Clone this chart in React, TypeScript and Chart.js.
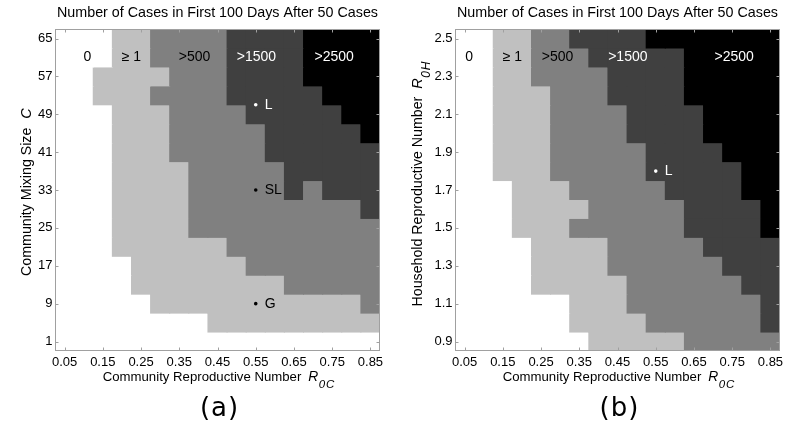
import React, { useEffect, useRef } from 'react';
import { Chart, registerables } from 'chart.js';

Chart.register(...registerables);

// ---------- data ----------
const rcValues = [0.05, 0.1, 0.15, 0.2, 0.25, 0.3, 0.35, 0.4, 0.45, 0.5, 0.55, 0.6, 0.65, 0.7, 0.75, 0.8, 0.85];
const rcTicks = [0.05, 0.15, 0.25, 0.35, 0.45, 0.55, 0.65, 0.75, 0.85];
const rcTickLabels = ['0.05', '0.15', '0.25', '0.35', '0.45', '0.55', '0.65', '0.75', '0.85'];

const mixingSizes = [65, 61, 57, 53, 49, 45, 41, 37, 33, 29, 25, 21, 17, 13, 9, 5, 1];
const mixingTicks = [1, 9, 17, 25, 33, 41, 49, 57, 65];
const mixingTickLabels = ['1', '9', '17', '25', '33', '41', '49', '57', '65'];

const householdR0 = [2.5, 2.4, 2.3, 2.2, 2.1, 2.0, 1.9, 1.8, 1.7, 1.6, 1.5, 1.4, 1.3, 1.2, 1.1, 1.0, 0.9];
const householdTicks = [0.9, 1.1, 1.3, 1.5, 1.7, 1.9, 2.1, 2.3, 2.5];
const householdTickLabels = ['0.9', '1.1', '1.3', '1.5', '1.7', '1.9', '2.1', '2.3', '2.5'];

// case-count class: 0 = "0", 1 = ">=1", 2 = ">500", 3 = ">1500", 4 = ">2500"
const caseClassLabels = ['0', '\u2265 1', '>500', '>1500', '>2500'];

// panel (a): rows = mixing size (65 .. 1), columns = R0C (0.05 .. 0.85)
const casesByMixing = [
  [0, 0, 0, 1, 1, 2, 2, 2, 2, 3, 3, 3, 3, 4, 4, 4, 4],
  [0, 0, 0, 1, 1, 2, 2, 2, 2, 3, 3, 3, 3, 4, 4, 4, 4],
  [0, 0, 1, 1, 1, 1, 2, 2, 2, 3, 3, 3, 3, 4, 4, 4, 4],
  [0, 0, 1, 1, 1, 2, 2, 2, 2, 3, 3, 3, 3, 3, 4, 4, 4],
  [0, 0, 0, 1, 1, 1, 2, 2, 2, 2, 3, 3, 3, 3, 3, 4, 4],
  [0, 0, 0, 1, 1, 1, 2, 2, 2, 2, 2, 3, 3, 3, 3, 3, 4],
  [0, 0, 0, 1, 1, 1, 2, 2, 2, 2, 2, 3, 3, 3, 3, 3, 3],
  [0, 0, 0, 1, 1, 1, 1, 2, 2, 2, 2, 2, 3, 3, 3, 3, 3],
  [0, 0, 0, 1, 1, 1, 1, 2, 2, 2, 2, 2, 3, 2, 3, 3, 3],
  [0, 0, 0, 1, 1, 1, 1, 2, 2, 2, 2, 2, 2, 2, 2, 2, 3],
  [0, 0, 0, 1, 1, 1, 1, 2, 2, 2, 2, 2, 2, 2, 2, 2, 2],
  [0, 0, 0, 1, 1, 1, 1, 1, 1, 2, 2, 2, 2, 2, 2, 2, 2],
  [0, 0, 0, 0, 1, 1, 1, 1, 1, 1, 2, 2, 2, 2, 2, 2, 2],
  [0, 0, 0, 0, 1, 1, 1, 1, 1, 1, 1, 1, 2, 2, 2, 2, 2],
  [0, 0, 0, 0, 0, 1, 1, 1, 1, 1, 1, 1, 1, 1, 1, 1, 2],
  [0, 0, 0, 0, 0, 0, 0, 0, 1, 1, 1, 1, 1, 1, 1, 1, 1],
  [0, 0, 0, 0, 0, 0, 0, 0, 0, 0, 0, 0, 0, 0, 0, 0, 0],
];

// panel (b): rows = household R0 (2.5 .. 0.9), columns = R0C (0.05 .. 0.85)
const casesByHousehold = [
  [0, 0, 1, 1, 2, 2, 3, 3, 3, 3, 4, 4, 4, 4, 4, 4, 4],
  [0, 0, 1, 1, 2, 2, 2, 3, 3, 3, 3, 3, 4, 4, 4, 4, 4],
  [0, 0, 1, 1, 2, 2, 2, 2, 3, 3, 3, 3, 4, 4, 4, 4, 4],
  [0, 0, 1, 1, 1, 2, 2, 2, 3, 3, 3, 3, 4, 4, 4, 4, 4],
  [0, 0, 1, 1, 1, 2, 2, 2, 2, 3, 3, 3, 3, 4, 4, 4, 4],
  [0, 0, 1, 1, 1, 2, 2, 2, 2, 3, 3, 3, 3, 4, 4, 4, 4],
  [0, 0, 1, 1, 1, 2, 2, 2, 2, 2, 3, 3, 3, 3, 4, 4, 4],
  [0, 0, 1, 1, 1, 2, 2, 2, 2, 2, 3, 3, 3, 3, 3, 4, 4],
  [0, 0, 0, 1, 1, 1, 2, 2, 2, 2, 2, 3, 3, 3, 3, 4, 4],
  [0, 0, 0, 1, 1, 1, 1, 2, 2, 2, 2, 2, 3, 3, 3, 3, 4],
  [0, 0, 0, 1, 1, 1, 2, 2, 2, 2, 2, 2, 3, 3, 3, 3, 4],
  [0, 0, 0, 0, 1, 1, 1, 1, 2, 2, 2, 2, 2, 3, 3, 3, 3],
  [0, 0, 0, 0, 1, 1, 1, 1, 2, 2, 2, 2, 2, 2, 3, 3, 3],
  [0, 0, 0, 0, 1, 1, 1, 1, 1, 2, 2, 2, 2, 2, 2, 3, 3],
  [0, 0, 0, 0, 0, 0, 1, 1, 1, 2, 2, 2, 2, 2, 2, 2, 3],
  [0, 0, 0, 0, 0, 0, 1, 1, 1, 1, 2, 2, 2, 2, 2, 2, 3],
  [0, 0, 0, 0, 0, 0, 0, 1, 1, 1, 1, 1, 2, 2, 2, 2, 2],
];

// class-label anchor positions (data coordinates)
const classLabelRcA = [0.11, 0.225, 0.39, 0.552, 0.755];
const classLabelMixing = 61;
const classLabelRcB = [0.062, 0.175, 0.293, 0.477, 0.755];
const classLabelHousehold = 2.4;

// marked scenarios
const scenarioNamesA = ['L', 'SL', 'G'];
const scenarioRcA = [0.55, 0.55, 0.55];
const scenarioMixing = [51, 33, 9];
const scenarioNamesB = ['L'];
const scenarioRcB = [0.55];
const scenarioHousehold = [1.8];

// ---------- style ----------
const classColors = ['#ffffff', '#c0c0c0', '#808080', '#404040', '#000000'];
const FONT = '"Liberation Sans", Arial, Helvetica, sans-serif';
const TITLE = 'Number of Cases in First 100 Days After 50 Cases';

type Part = { text: string; font: string; dy?: number; gap?: number };

function drawParts(ctx: CanvasRenderingContext2D, parts: Part[], cx: number, baseline: number, color: string) {
  ctx.textAlign = 'left';
  ctx.textBaseline = 'alphabetic';
  ctx.fillStyle = color;
  let total = 0;
  const widths = parts.map((p) => {
    ctx.font = p.font;
    const w = ctx.measureText(p.text).width;
    total += w + (p.gap || 0);
    return w;
  });
  let x = cx - total / 2;
  parts.forEach((p, i) => {
    x += p.gap || 0;
    ctx.font = p.font;
    ctx.fillText(p.text, x, baseline + (p.dy || 0));
    x += widths[i];
  });
}

type PanelSpec = {
  rows: number[];
  half: number;
  levels: number[][];
  yMin: number;
  yMax: number;
  yTicks: number[];
  yTickLabels: string[];
  yTitleParts: Part[];
  yTitleX: number;
  yTitleShift: number;
  classX: number[];
  classY: number;
  ptNames: string[];
  ptX: number[];
  ptY: number[];
  letter: string;
  yAxisWidth: number;
  rightPad: number;
};

function nearestIndex(arr: number[], v: number) {
  let best = 0;
  arr.forEach((a, i) => {
    if (Math.abs(a - v) < Math.abs(arr[best] - v) - 1e-9) best = i;
  });
  return best;
}

function makeConfig(p: PanelSpec): any {
  const ptColors = p.ptX.map((x, i) => {
    const lvl = p.levels[nearestIndex(p.rows, p.ptY[i])][nearestIndex(rcValues, x)];
    return lvl >= 3 ? '#ffffff' : '#000000';
  });

  const datasets: any[] = [
    {
      type: 'scatter',
      data: p.ptX.map((x, i) => ({ x, y: p.ptY[i] })),
      pointRadius: 1.8,
      pointBackgroundColor: ptColors,
      pointBorderColor: ptColors,
      pointBorderWidth: 0,
      order: -1,
    },
  ];
  p.rows.forEach((yc, r) => {
    datasets.push({
      type: 'bar',
      data: rcValues.map((x) => ({ x, y: [yc - p.half, yc + p.half] })),
      backgroundColor: p.levels[r].map((l) => classColors[l]),
      borderWidth: 0,
      grouped: false,
      barPercentage: 1,
      categoryPercentage: 1,
      inflateAmount: 0.5,
    });
  });

  const overlay = {
    id: 'overlay',
    afterDatasetsDraw(chart: any) {
      const { ctx, chartArea: a, scales } = chart;
      const xs = scales.x;
      const ys = scales.y;
      ctx.save();
      ctx.strokeStyle = '#a0a0a0';
      ctx.lineWidth = 1;
      const L = Math.round(a.left) + 0.5;
      const R = Math.round(a.right) - 0.5;
      const T = Math.round(a.top) + 0.5;
      const B = Math.round(a.bottom) - 0.5;
      ctx.strokeRect(L, T, R - L, B - T);
      ctx.beginPath();
      rcTicks.forEach((v) => {
        const px = Math.round(xs.getPixelForValue(v)) + 0.5;
        ctx.moveTo(px, B);
        ctx.lineTo(px, B - 3);
        ctx.moveTo(px, T);
        ctx.lineTo(px, T + 3);
      });
      p.yTicks.forEach((v) => {
        const py = Math.round(ys.getPixelForValue(v)) + 0.5;
        ctx.moveTo(L, py);
        ctx.lineTo(L + 3, py);
        ctx.moveTo(R, py);
        ctx.lineTo(R - 3, py);
      });
      ctx.stroke();
      ctx.restore();
    },
    afterDraw(chart: any) {
      const { ctx, chartArea: a, scales } = chart;
      const xs = scales.x;
      const ys = scales.y;
      const cx = (a.left + a.right) / 2;
      const cy = (a.top + a.bottom) / 2;
      ctx.save();
      // x-axis title
      drawParts(
        ctx,
        [
          { text: 'Community Reproductive Number', font: `13.2px ${FONT}` },
          { text: 'R', font: `italic 13.8px ${FONT}`, gap: 7 },
          { text: '0', font: `italic 11.5px ${FONT}`, dy: 7.5, gap: 0.5 },
          { text: 'C', font: `italic 11.5px ${FONT}`, dy: 7.5, gap: 0.8 },
        ],
        cx + 1,
        a.bottom + 29.5,
        '#000'
      );
      // y-axis title (rotated)
      ctx.save();
      ctx.translate(p.yTitleX, cy + p.yTitleShift);
      ctx.rotate(-Math.PI / 2);
      drawParts(ctx, p.yTitleParts, 0, 0, '#000');
      ctx.restore();
      // panel letter
      ctx.font = `26px "DejaVu Sans", sans-serif`;
      try {
        (ctx as any).letterSpacing = '1px';
      } catch (e) {
        /* ignore */
      }
      ctx.textAlign = 'center';
      ctx.textBaseline = 'alphabetic';
      ctx.fillStyle = '#000';
      ctx.fillText(p.letter, cx + 2, a.bottom + 64.5);
      try {
        (ctx as any).letterSpacing = '0px';
      } catch (e) {
        /* ignore */
      }
      // class labels
      ctx.font = `14px ${FONT}`;
      ctx.textBaseline = 'middle';
      ctx.textAlign = 'center';
      p.classX.forEach((x, i) => {
        ctx.fillStyle = i >= 3 ? '#ffffff' : '#000000';
        ctx.fillText(caseClassLabels[i], xs.getPixelForValue(x), ys.getPixelForValue(p.classY));
      });
      // scenario labels
      ctx.textAlign = 'left';
      p.ptNames.forEach((n, i) => {
        ctx.fillStyle = ptColors[i];
        ctx.fillText(n, xs.getPixelForValue(p.ptX[i]) + 9, ys.getPixelForValue(p.ptY[i]));
      });
      ctx.restore();
    },
  };

  return {
    type: 'bar',
    data: { datasets },
    plugins: [overlay],
    options: {
      animation: false,
      responsive: false,
      devicePixelRatio: 1,
      layout: { padding: { left: 0, right: p.rightPad, top: 0, bottom: 0 } },
      plugins: {
        legend: { display: false },
        tooltip: { enabled: false },
        title: {
          display: true,
          text: TITLE,
          fullSize: false,
          color: '#000',
          font: { family: FONT, size: 14.3, weight: 'normal' },
          padding: { top: 4.3, bottom: 7.6 },
        },
      },
      scales: {
        x: {
          type: 'linear',
          min: 0.025,
          max: 0.875,
          offset: false,
          grid: { display: false, drawTicks: false },
          border: { display: false },
          afterBuildTicks: (s: any) => {
            s.ticks = rcTicks.map((v) => ({ value: v }));
          },
          afterFit: (s: any) => {
            s.height = 75;
          },
          ticks: {
            autoSkip: false,
            maxRotation: 0,
            padding: 4,
            color: '#000',
            font: { family: FONT, size: 13 },
            callback: (_v: any, i: number) => rcTickLabels[i],
          },
        },
        y: {
          type: 'linear',
          min: p.yMin,
          max: p.yMax,
          grid: { display: false, drawTicks: false },
          border: { display: false },
          afterBuildTicks: (s: any) => {
            s.ticks = p.yTicks.map((v) => ({ value: v }));
          },
          afterFit: (s: any) => {
            s.width = p.yAxisWidth;
          },
          ticks: {
            autoSkip: false,
            padding: 2.5,
            color: '#000',
            font: { family: FONT, size: 13 },
            callback: (_v: any, i: number) => p.yTickLabels[i],
          },
        },
      },
    },
  };
}

const panelA: PanelSpec = {
  rows: mixingSizes,
  half: 2,
  levels: casesByMixing,
  yMin: -1,
  yMax: 67,
  yTicks: mixingTicks,
  yTickLabels: mixingTickLabels,
  yTitleParts: [
    { text: 'Community Mixing Size', font: `14.2px ${FONT}` },
    { text: 'C', font: `italic 14.5px ${FONT}`, gap: 9 },
  ],
  yTitleX: 31,
  yTitleShift: 2,
  classX: classLabelRcA,
  classY: classLabelMixing,
  ptNames: scenarioNamesA,
  ptX: scenarioRcA,
  ptY: scenarioMixing,
  letter: '(a)',
  yAxisWidth: 55,
  rightPad: 15,
};

const panelB: PanelSpec = {
  rows: householdR0,
  half: 0.05,
  levels: casesByHousehold,
  yMin: 0.85,
  yMax: 2.55,
  yTicks: householdTicks,
  yTickLabels: householdTickLabels,
  yTitleParts: [
    { text: 'Household Reproductive Number', font: `14.2px ${FONT}` },
    { text: 'R', font: `italic 14.5px ${FONT}`, gap: 8 },
    { text: '0', font: `italic 12px ${FONT}`, dy: 8, gap: 0.5 },
    { text: 'H', font: `italic 12px ${FONT}`, dy: 8, gap: 0.8 },
  ],
  yTitleX: 27,
  yTitleShift: -6,
  classX: classLabelRcB,
  classY: classLabelHousehold,
  ptNames: scenarioNamesB,
  ptX: scenarioRcB,
  ptY: scenarioHousehold,
  letter: '(b)',
  yAxisWidth: 60,
  rightPad: 10,
};

function Panel({ spec, left }: { spec: PanelSpec; left: number }) {
  const ref = useRef<HTMLCanvasElement>(null);
  useEffect(() => {
    const chart = new Chart(ref.current as HTMLCanvasElement, makeConfig(spec));
    return () => chart.destroy();
  }, [spec]);
  return (
    <canvas
      ref={ref}
      width={395}
      height={426}
      style={{ position: 'absolute', left, top: 0, width: 395, height: 426 }}
    />
  );
}

export default function App() {
  return (
    <div style={{ position: 'fixed', left: 0, top: 0, width: 790, height: 426, background: '#ffffff' }}>
      <Panel spec={panelA} left={0} />
      <Panel spec={panelB} left={395} />
    </div>
  );
}
